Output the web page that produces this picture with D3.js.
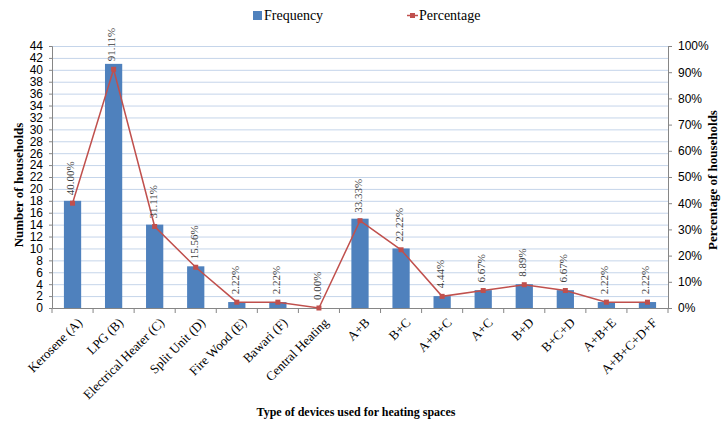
<!DOCTYPE html>
<html>
<head>
<meta charset="utf-8">
<script src="https://cdn.jsdelivr.net/npm/d3@7"></script>
<style>
  body { margin: 0; background: #fff; }
  svg { display: block; }
</style>
</head>
<body>
<div id="chart"></div>
<script>
const categories = ['Kerosene (A)', 'LPG (B)', 'Electrical Heater (C)', 'Split Unit (D)', 'Fire Wood (E)', 'Bawari (F)', 'Central Heating', 'A+B', 'B+C', 'A+B+C', 'A+C', 'B+D', 'B+C+D', 'A+B+E', 'A+B+C+D+F']
const frequency = [18, 41, 14, 7, 1, 1, 0, 15, 10, 2, 3, 4, 3, 1, 1]
const percentage = [40.00, 91.11, 31.11, 15.56, 2.22, 2.22, 0.00, 33.33, 22.22, 4.44, 6.67, 8.89, 6.67, 2.22, 2.22]
const leftTicks = d3.range(0, 45, 2)
const rightTicks = d3.range(0, 101, 10)

const data = categories.map((c, i) => ({ cat: c, freq: frequency[i], pct: percentage[i] }))

const width = 721
const height = 425
const margin = { top: 46, right: 53, bottom: 117, left: 52 }
const innerW = width - margin.left - margin.right
const innerH = height - margin.top - margin.bottom

const svg = d3.select('#chart')
  .append('svg')
  .attr('width', width)
  .attr('height', height)

const g = svg.append('g')
  .attr('transform', `translate(${margin.left}, ${margin.top})`)

const x = d3.scaleBand()
  .domain(categories)
  .range([0, innerW])
  .paddingInner(0.58)
  .paddingOuter(0.29)

const xOuter = d3.scaleBand().domain(categories).range([0, innerW])

const yLeft = d3.scaleLinear().domain([0, 44]).range([innerH, 0])
const yRight = d3.scaleLinear().domain([0, 100]).range([innerH, 0])

// gridlines
g.append('g')
  .selectAll('line')
  .data(leftTicks.filter(d => d > 0))
  .join('line')
  .attr('x1', 0)
  .attr('x2', innerW)
  .attr('y1', d => yLeft(d) + 0.5)
  .attr('y2', d => yLeft(d) + 0.5)
  .attr('stroke', '#c5d5ea')
  .attr('stroke-width', 1)

// bars
g.append('g')
  .selectAll('rect')
  .data(data)
  .join('rect')
  .attr('x', d => x(d.cat))
  .attr('width', x.bandwidth())
  .attr('y', d => yLeft(d.freq))
  .attr('height', d => yLeft(0) - yLeft(d.freq))
  .attr('fill', '#4f81bd')

// axes
const tickFont = '"Liberation Sans", Arial, sans-serif'
const serif = '"Liberation Serif", "Times New Roman", serif'

const leftAxis = g.append('g')
  .call(d3.axisLeft(yLeft).tickValues(leftTicks).tickSize(3).tickPadding(6))
leftAxis.selectAll('text').attr('font-family', tickFont).attr('font-size', 12).attr('fill', '#000')

const rightAxis = g.append('g')
  .attr('transform', `translate(${innerW}, 0)`)
  .call(d3.axisRight(yRight).tickValues(rightTicks).tickFormat(d => d + '%').tickSize(4).tickPadding(6))
rightAxis.selectAll('text').attr('font-family', tickFont).attr('font-size', 12).attr('fill', '#000')

const bottomAxis = g.append('g')
  .attr('transform', `translate(0, ${innerH})`)
  .call(d3.axisBottom(xOuter).tickSize(0).tickFormat(''))

// category boundary ticks
bottomAxis.selectAll('line.sep')
  .data(d3.range(categories.length + 1))
  .join('line')
  .attr('class', 'sep')
  .attr('x1', i => i * xOuter.step())
  .attr('x2', i => i * xOuter.step())
  .attr('y1', 0)
  .attr('y2', 5)

svg.selectAll('.domain, .tick line, line.sep').attr('stroke', '#868686')

// category labels
g.append('g')
  .selectAll('text')
  .data(categories)
  .join('text')
  .attr('transform', d => `translate(${xOuter(d) + xOuter.bandwidth() / 2 + 4}, ${innerH + 9}) rotate(-45)`)
  .attr('text-anchor', 'end')
  .attr('dy', '0.7em')
  .attr('font-family', serif)
  .attr('font-size', 13)
  .text(d => d)

// percentage line
const line = d3.line()
  .x(d => x(d.cat) + x.bandwidth() / 2)
  .y(d => yRight(d.pct))

g.append('path')
  .datum(data)
  .attr('d', line)
  .attr('fill', 'none')
  .attr('stroke', '#c0504d')
  .attr('stroke-width', 1.5)

g.append('g')
  .selectAll('rect')
  .data(data)
  .join('rect')
  .attr('x', d => x(d.cat) + x.bandwidth() / 2 - 2.5)
  .attr('y', d => yRight(d.pct) - 2.5)
  .attr('width', 5)
  .attr('height', 5)
  .attr('fill', '#c0504d')

// data labels
g.append('g')
  .selectAll('text')
  .data(data)
  .join('text')
  .attr('transform', d => `translate(${x(d.cat) + x.bandwidth() / 2 - 2}, ${yRight(d.pct) - 8}) rotate(-90)`)
  .attr('dy', '0.35em')
  .attr('font-family', serif)
  .attr('font-size', 11)
  .attr('fill', '#404040')
  .text(d => d.pct.toFixed(2) + '%')

// axis titles
svg.append('text')
  .attr('transform', `translate(18, ${margin.top + innerH / 2 + 8}) rotate(-90)`)
  .attr('text-anchor', 'middle')
  .attr('dy', '0.35em')
  .attr('font-family', serif)
  .attr('font-size', 13)
  .attr('font-weight', 'bold')
  .text('Number of households')

svg.append('text')
  .attr('transform', `translate(712, ${margin.top + innerH / 2 + 3}) rotate(-90)`)
  .attr('text-anchor', 'middle')
  .attr('dy', '0.35em')
  .attr('font-family', serif)
  .attr('font-size', 13)
  .attr('font-weight', 'bold')
  .text('Percentage of households')

svg.append('text')
  .attr('x', 356)
  .attr('y', 416)
  .attr('text-anchor', 'middle')
  .attr('font-family', serif)
  .attr('font-size', 12)
  .attr('font-weight', 'bold')
  .text('Type of devices used for heating spaces')

// legend
const legend = svg.append('g')
legend.append('rect')
  .attr('x', 253).attr('y', 11).attr('width', 9).attr('height', 9)
  .attr('fill', '#4f81bd')
legend.append('text')
  .attr('x', 264).attr('y', 20)
  .attr('font-family', serif).attr('font-size', 14)
  .text('Frequency')
legend.append('line')
  .attr('x1', 407).attr('x2', 418).attr('y1', 15.5).attr('y2', 15.5)
  .attr('stroke', '#c0504d').attr('stroke-width', 1.5)
legend.append('rect')
  .attr('x', 410).attr('y', 13).attr('width', 5).attr('height', 5)
  .attr('fill', '#c0504d')
legend.append('text')
  .attr('x', 419).attr('y', 20)
  .attr('font-family', serif).attr('font-size', 14)
  .text('Percentage')
</script>
</body>
</html>
